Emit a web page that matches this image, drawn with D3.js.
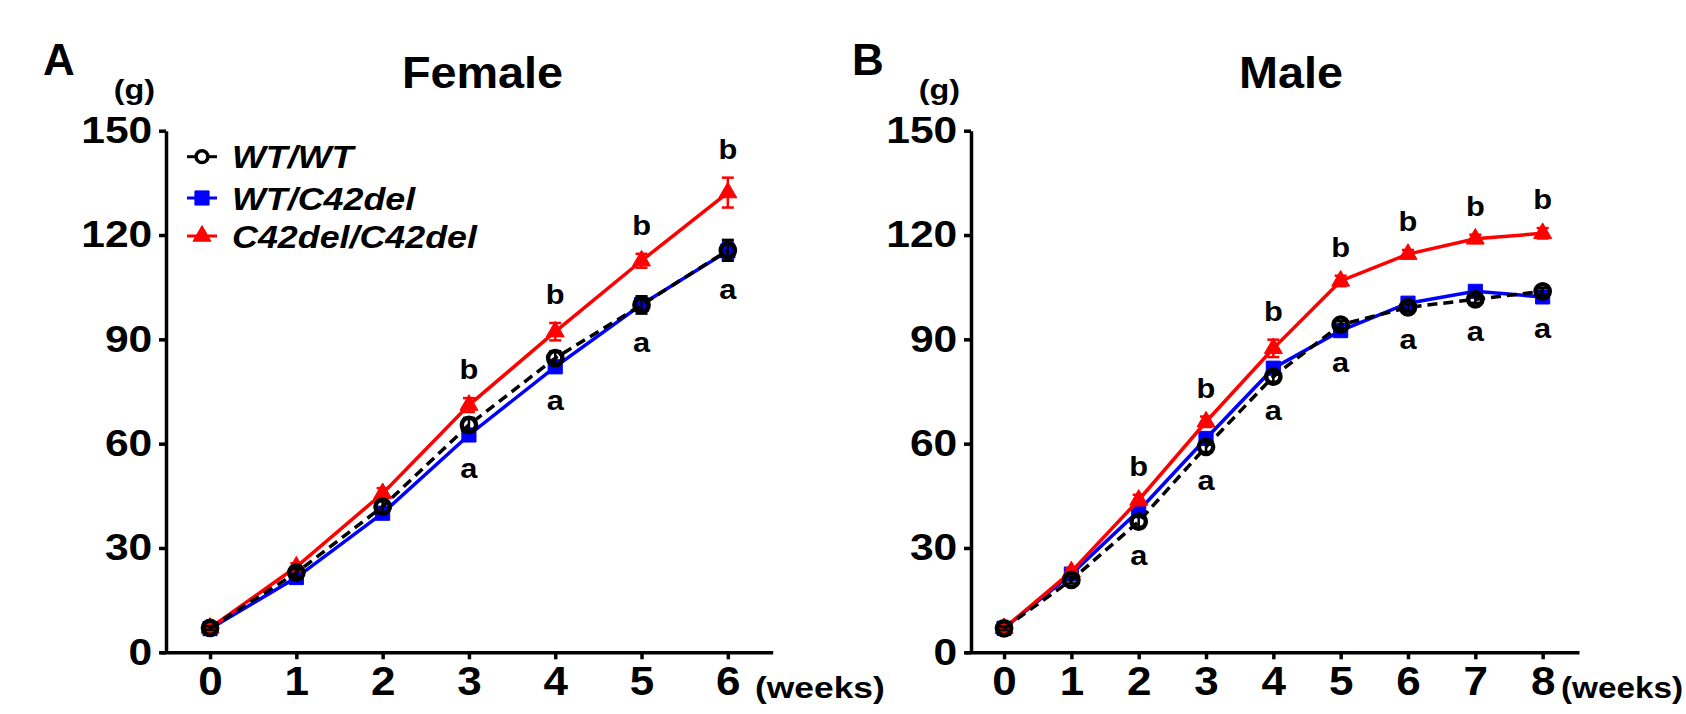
<!DOCTYPE html>
<html>
<head>
<meta charset="utf-8">
<script src="https://cdn.jsdelivr.net/npm/d3@7"></script>
<style>
    body { margin: 0; background: #fff; }
    svg text { font-family: "Liberation Sans", Arial, Helvetica, sans-serif; font-weight: bold; fill: #000; }
</style>
</head>
<body>
<script>
// ---- data ----
var seriesNames = ["WT/WT", "WT/C42del", "C42del/C42del"];
var yTicks = [0, 30, 60, 90, 120, 150];

var femaleWeeks = [0, 1, 2, 3, 4, 5, 6];
var femaleWT = [7.0, 22.9, 41.9, 65.4, 84.6, 99.9, 115.6];
var femaleWTsem = [0.5, 1.0, 1.5, 2.0, 2.0, 2.5, 3.0];
var femaleHet = [6.8, 21.5, 40.0, 62.5, 82.1, 100.0, 115.4];
var femaleHetSem = [0.5, 1.0, 1.0, 1.5, 1.5, 2.0, 2.5];
var femaleHom = [7.0, 24.6, 45.7, 71.1, 92.2, 112.6, 132.2];
var femaleHomSem = [0.5, 1.0, 1.5, 2.0, 2.5, 2.0, 4.3];
var femaleLetterWeeks = [3, 4, 5, 6];

var maleWeeks = [0, 1, 2, 3, 4, 5, 6, 7, 8];
var maleWT = [6.9, 20.8, 37.6, 59.1, 79.3, 94.2, 99.2, 101.5, 103.8];
var maleWTsem = [0.5, 1.0, 1.5, 1.5, 1.5, 1.0, 1.0, 1.0, 1.0];
var maleHet = [6.9, 22.5, 40.7, 61.5, 81.7, 92.5, 100.4, 103.8, 102.2];
var maleHetSem = [0.5, 1.0, 1.0, 1.5, 1.5, 1.0, 1.0, 1.0, 1.0];
var maleHom = [6.9, 23.2, 43.8, 66.3, 87.4, 106.8, 114.5, 118.9, 120.5];
var maleHomSem = [0.5, 1.0, 1.5, 1.5, 2.5, 1.5, 1.2, 1.2, 1.5];
var maleLetterWeeks = [2, 3, 4, 5, 6, 7, 8];

// ---- styles ----
var styles = [
    {color: "#000000", dash: "10,6", symbol: d3.symbolCircle, size: 160, fill: "none"},
    {color: "#0000ff", dash: null, symbol: d3.symbolSquare, size: 200, fill: "#0000ff"},
    {color: "#ff0000", dash: null, symbol: d3.symbolTriangle, size: 140, fill: "#ff0000"}
];

var svg = d3.select("body").append("svg")
    .attr("width", 1686)
    .attr("height", 714);

function addText(g, str, x, y, size, anchor, sx, italic) {
    return g.append("text")
        .attr("transform", "translate(" + x + "," + y + ") scale(" + sx + ",1)")
        .attr("text-anchor", anchor)
        .style("font-size", size + "px")
        .style("font-style", italic ? "italic" : "normal")
        .text(str);
}

function drawPanel(cfg) {
    var g = svg.append("g");

    var x = d3.scaleLinear()
        .domain(cfg.xDomain)
        .range(cfg.xRange);
    var y = d3.scaleLinear()
        .domain([0, 150])
        .range([652.3, 130.7]);

    // y axis
    var yAxis = g.append("g")
        .attr("transform", "translate(" + cfg.yAxisX + ",0)")
        .call(d3.axisLeft(y).tickValues(yTicks).tickSize(7).tickSizeOuter(0).tickPadding(5));
    // x axis
    var xAxis = g.append("g")
        .attr("transform", "translate(0," + y(0) + ")")
        .call(d3.axisBottom(x).tickValues(cfg.weeks).tickSize(7).tickSizeOuter(0).tickPadding(7));

    [yAxis, xAxis].forEach(function(ax) {
        ax.attr("font-family", null).attr("font-size", null);
        ax.selectAll("path, line").attr("stroke-width", 3.5);
    });
    yAxis.selectAll("text")
        .style("font-size", "37px")
        .attr("transform", "scale(1.15,1)");
    xAxis.selectAll("text")
        .style("font-size", "40px")
        .attr("transform", "scale(1.1,1)");

    addText(g, "(g)", cfg.yAxisX - 11, 99, 27, "end", 1.2);
    addText(g, "(weeks)", cfg.weeksX, 698, 30, "start", cfg.weeksSx);
    addText(g, cfg.panel, cfg.panelX, 75, 44, "start", 1);
    addText(g, cfg.title, cfg.titleX, 88, 45, "middle", 1.04);

    var line = d3.line()
        .x(function(d) { return x(d.w); })
        .y(function(d) { return y(d.v); });

    // draw blue, red, then black on top
    [1, 2, 0].forEach(function(i) {
        var s = cfg.series[i],
            st = styles[i];
        var pts = cfg.weeks.map(function(w, j) {
            return {w: w, v: s.values[j], e: s.sem[j]};
        });
        var sg = g.append("g").attr("class", "series _" + i);

        sg.append("path")
            .datum(pts)
            .attr("d", line)
            .attr("fill", "none")
            .attr("stroke", st.color)
            .attr("stroke-width", 3.5)
            .attr("stroke-dasharray", st.dash);

        var eb = sg.selectAll("g.err")
            .data(pts)
            .enter()
            .append("g")
            .attr("class", "err")
            .attr("stroke", st.color)
            .attr("stroke-width", 2.5);
        eb.append("line")
            .attr("x1", function(d) { return x(d.w); })
            .attr("x2", function(d) { return x(d.w); })
            .attr("y1", function(d) { return y(d.v - d.e); })
            .attr("y2", function(d) { return y(d.v + d.e); });
        [-1, 1].forEach(function(sign) {
            eb.append("line")
                .attr("x1", function(d) { return x(d.w) - 6; })
                .attr("x2", function(d) { return x(d.w) + 6; })
                .attr("y1", function(d) { return y(d.v + sign * d.e); })
                .attr("y2", function(d) { return y(d.v + sign * d.e); });
        });

        sg.selectAll("path.dot")
            .data(pts)
            .enter()
            .append("path")
            .attr("class", "dot")
            .attr("d", d3.symbol().type(st.symbol).size(st.size))
            .attr("transform", function(d) {
                return "translate(" + x(d.w) + "," + y(d.v) + ")";
            })
            .attr("fill", st.fill)
            .attr("stroke", st.color)
            .attr("stroke-width", i === 0 ? 4.5 : 1);
    });

    // significance letters
    cfg.letterWeeks.forEach(function(w) {
        var j = cfg.weeks.indexOf(w),
            hom = cfg.series[2],
            top = hom.values[j] + hom.sem[j],
            low = Math.min(cfg.series[0].values[j] - cfg.series[0].sem[j],
                           cfg.series[1].values[j] - cfg.series[1].sem[j]);
        addText(g, "b", x(w), y(top) - 19, 28, "middle", 1.1);
        addText(g, "a", x(w), y(low) + 38, 28, "middle", 1.1);
    });

    if (cfg.legend) {
        var rows = [156.7, 198, 236];
        seriesNames.forEach(function(name, i) {
            var st = styles[i],
                lg = g.append("g");
            lg.append("line")
                .attr("x1", 187).attr("x2", 217)
                .attr("y1", rows[i]).attr("y2", rows[i])
                .attr("stroke", st.color)
                .attr("stroke-width", 3);
            lg.append("path")
                .attr("d", d3.symbol().type(st.symbol).size(i === 0 ? 110 : st.size))
                .attr("transform", "translate(202," + rows[i] + ")")
                .attr("fill", i === 0 ? "#fff" : st.fill)
                .attr("stroke", st.color)
                .attr("stroke-width", i === 0 ? 3.5 : 1);
            addText(lg, name, 232, rows[i] + 11.5, 32, "start", 1.12, true);
        });
    }
}

drawPanel({
    panel: "A", panelX: 43,
    title: "Female", titleX: 482.5,
    weeks: femaleWeeks,
    xDomain: [-0.58, 6.52], xRange: [160, 772.7],
    yAxisX: 166,
    weeksX: 755, weeksSx: 1.18,
    series: [
        {values: femaleWT, sem: femaleWTsem},
        {values: femaleHet, sem: femaleHetSem},
        {values: femaleHom, sem: femaleHomSem}
    ],
    letterWeeks: femaleLetterWeeks,
    legend: true
});

drawPanel({
    panel: "B", panelX: 852,
    title: "Male", titleX: 1291,
    weeks: maleWeeks,
    xDomain: [-0.58, 8.54], xRange: [965, 1579],
    yAxisX: 971,
    weeksX: 1561, weeksSx: 1.11,
    series: [
        {values: maleWT, sem: maleWTsem},
        {values: maleHet, sem: maleHetSem},
        {values: maleHom, sem: maleHomSem}
    ],
    letterWeeks: maleLetterWeeks,
    legend: false
});
</script>
</body>
</html>
